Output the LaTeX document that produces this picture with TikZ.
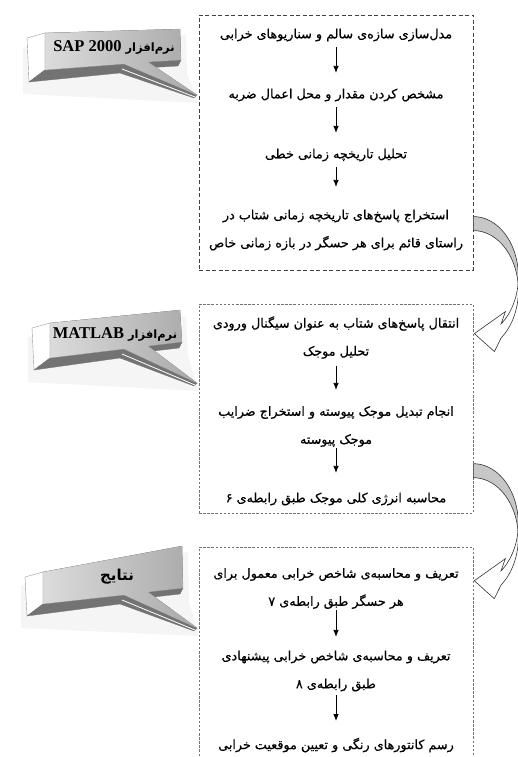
\documentclass[tikz,border=0pt]{standalone}
\usepackage{fontspec}
\newfontfamily\arabicfont[Script=Arabic]{DejaVu Sans}
\newfontfamily\stepfont[Script=Arabic, FakeBold=0.6]{DejaVu Sans}
\newfontfamily\latinfont{Liberation Serif}
\TeXXeTstate=1
\usetikzlibrary{arrows.meta,calc,positioning}

\newcommand{\prs}[1]{\beginR#1\endR}

% curved ribbon arrow between two stages
\newcommand{\bendarrow}{%
  \filldraw[bandback] plot[domain=90:0,samples=30] ({45*cos(\x)},{60-60*sin(\x)})
    -- plot[domain=0:90,samples=30] ({45*cos(\x)},{74-60*sin(\x)}) -- cycle;
  \filldraw[bandfront] plot[domain=0:-52,samples=30] ({45*cos(\x)},{60-60*sin(\x)})
    -- (32,95) -- (1,117) -- (21,135)
    -- plot[domain=-52:0,samples=30] ({45*cos(\x)},{74-60*sin(\x)}) -- cycle;
}

% 3d callout from the corners tl, tr, br, bl, tail base ta, tb and tip tp
\newcommand{\drawtag}{%
  \fill[black, opacity=0.04] ($(tl)+(-22,14)$) -- ($(tr)+(6,6)$) -- ($(br)+(6,14)$)
    -- ($(tp)+(2,8)$) -- ($(bl)+(-22,24)$) -- cycle;
  \filldraw[tagside] ($(tl)+(-18,5)$) -- (tl) -- (bl) -- ($(bl)+(-16,12)$) -- cycle;
  \filldraw[tagbottom] (bl) -- (ta) -- ($(ta)+(-4,9)$) -- ($(bl)+(-16,12)$) -- cycle;
  \filldraw[tagbottom] (ta) -- (tp) -- ($(tp)+(-3,3)$) -- ($(ta)+(-4,9)$) -- cycle;
  \filldraw[tagbottom] (tb) -- (br) -- ($(br)+(-3,6)$) -- ($(tb)+(-3,6)$) -- cycle;
  \filldraw[tagface] (tl) -- (tr) -- (br) -- (tb) -- (tp) -- (ta) -- (bl) -- cycle;
  \draw[white, line width=0.8pt] ($(ta)+(-2,5)$) -- ($(tp)+(-2,2)$);
}

\tikzset{
  steptext/.style={font=\stepfont\fontsize{12.75}{28}\selectfont, align=center, inner sep=1pt},
  flowarrow/.style={-{Latex[length=7pt,width=5.5pt]}, line width=0.8pt, shorten <=4.5pt, shorten >=14.5pt},
  outerbox/.style={draw=black!75, line width=0.8pt, dash pattern=on 4pt off 2.5pt, minimum width=274pt},
  innerbox/.style={draw=black!55, line width=0.6pt, dash pattern=on 2.5pt off 1.6pt, minimum width=274pt},
  tagface/.style={left color=black!14, right color=black!34, draw=black!30, line width=0.3pt},
  tagside/.style={fill=white, draw=black!40, line width=0.4pt},
  tagbottom/.style={fill=black!55, draw=black!55, line width=0.3pt},
  tagtext/.style={font=\arabicfont\bfseries\fontsize{11.5}{14}\selectfont, inner sep=0pt},
  bandback/.style={fill=black!22, draw=black!80, line width=0.6pt},
  bandfront/.style={fill=white, draw=black!80, line width=0.6pt},
}

\begin{document}
\begin{tikzpicture}[x=1pt,y=-1pt]
\useasboundingbox (0,0) rectangle (518,757);
\clip (0,0) rectangle (518,757);

% stage frames
\node[outerbox, minimum height=255pt] (box1) at (336,142.5) {};
\node[innerbox, minimum height=209pt] (box2) at (336,408.5) {};
\node[innerbox, minimum height=250pt] (box3) at (336,672) {};

% links between the stages
\begin{scope}[shift={($(box1.north east)+(0,202)$)}]
  \bendarrow
\end{scope}
\begin{scope}[shift={($(box2.north east)+(0,160)$)}]
  \bendarrow
\end{scope}

% callouts
\coordinate (tl) at (45,33);  \coordinate (tr) at (180,29);
\coordinate (br) at (181,60); \coordinate (bl) at (45,70);
\coordinate (ta) at (124,64); \coordinate (tb) at (148,62);
\coordinate (tp) at (197,95);
\drawtag
\node[tagtext] (tag1) at (114,47) {\prs{نرم^^^^200cافزار \beginL{\latinfont\bfseries\fontsize{16.5}{18}\selectfont SAP 2000}\endL}};

\coordinate (tl) at (50,323);  \coordinate (tr) at (180,310);
\coordinate (br) at (182,342); \coordinate (bl) at (50,358);
\coordinate (ta) at (124,349); \coordinate (tb) at (148,346);
\coordinate (tp) at (197,383);
\drawtag
\node[tagtext] (tag2) at (115,334) {\prs{نرم^^^^200cافزار \beginL{\latinfont\bfseries\fontsize{16.5}{18}\selectfont MATLAB}\endL}};

\coordinate (tl) at (43,572);  \coordinate (tr) at (182,546);
\coordinate (br) at (183,588); \coordinate (bl) at (43,604);
\coordinate (ta) at (124,595); \coordinate (tb) at (148,592);
\coordinate (tp) at (197,628);
\drawtag
\node[tagtext, font=\arabicfont\bfseries\fontsize{15}{17}\selectfont] (tag3) at (117,577) {\prs{نتایج}};

% first stage
\node[steptext] (s1) at (336,35) {\prs{مدل^^^^200cسازی سازه^^^^200cی سالم و سناریوهای خرابی}};
\node[steptext] (s2) at (336,95) {\prs{مشخص کردن مقدار و محل اعمال ضربه}};
\node[steptext] (s3) at (336,155) {\prs{تحلیل تاریخچه زمانی خطی}};
\node[steptext] (s4) at (336,230) {\prs{استخراج پاسخ^^^^200cهای تاریخچه زمانی شتاب در}\\\prs{راستای قائم برای هر حسگر در بازه زمانی خاص}};
\draw[flowarrow] (s1) -- (s2);
\draw[flowarrow] (s2) -- (s3);
\draw[flowarrow, shorten >=21.5pt] (s3) -- (s4);

% second stage
\node[steptext] (s5) at (336,337.5) {\prs{انتقال پاسخ^^^^200cهای شتاب به عنوان سیگنال ورودی}\\\prs{تحلیل موجک}};
\node[steptext] (s6) at (336,426.5) {\prs{انجام تبدیل موجک پیوسته و استخراج ضرایب}\\\prs{موجک پیوسته}};
\node[steptext] (s7) at (336,499) {\prs{محاسبه انرژی کلی موجک طبق رابطه^^^^200cی ۶}};
\draw[flowarrow, shorten <=6pt, shorten >=15pt] (s5) -- (s6);
\draw[flowarrow, shorten <=0pt, shorten >=18.5pt] (s6) -- (s7);

% third stage
\node[steptext] (s8) at (336,588.5) {\prs{تعریف و محاسبه^^^^200cی شاخص خرابی معمول برای}\\\prs{هر حسگر طبق رابطه^^^^200cی ۷}};
\node[steptext] (s9) at (336,671) {\prs{تعریف و محاسبه^^^^200cی شاخص خرابی پیشنهادی}\\\prs{طبق رابطه^^^^200cی ۸}};
\node[steptext] (s10) at (336,745) {\prs{رسم کانتورهای رنگی و تعیین موقعیت خرابی}};
\draw[flowarrow, shorten <=0pt, shorten >=12.5pt] (s8) -- (s9);
\draw[flowarrow, shorten <=2.5pt, shorten >=15.5pt] (s9) -- (s10);
\end{tikzpicture}
\end{document}
